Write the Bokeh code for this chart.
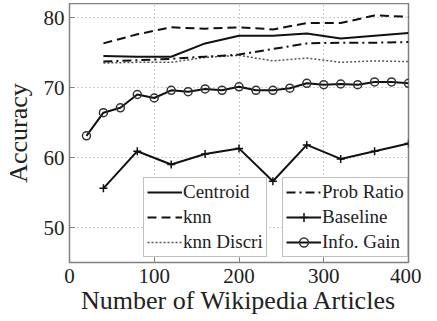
from bokeh.plotting import figure
from bokeh.models import Legend, LegendItem, Range1d, FixedTicker
from bokeh.embed import file_html
from bokeh.resources import INLINE

x40 = [40, 80, 120, 160, 200, 240, 280, 320, 360, 400]
x20 = [20, 40, 60, 80, 100, 120, 140, 160, 180, 200, 220, 240, 260, 280, 300, 320, 340, 360, 380, 400]
centroid = [74.5, 74.4, 74.4, 76.3, 77.4, 77.4, 77.7, 77.0, 77.4, 77.8]
knn = [76.3, 77.6, 78.6, 78.4, 78.6, 78.3, 79.2, 79.2, 80.3, 80.1]
knn_discri = [73.5, 73.6, 73.6, 74.3, 74.6, 73.8, 74.2, 73.6, 73.8, 73.7]
prob_ratio = [73.7, 73.9, 74.1, 74.4, 74.7, 75.5, 76.3, 76.4, 76.4, 76.5]
baseline = [55.6, 60.9, 59.0, 60.5, 61.3, 56.6, 61.8, 59.8, 60.9, 62.0]
info_gain = [63.1, 66.4, 67.1, 69.0, 68.5, 69.6, 69.4, 69.8, 69.6, 70.1,
             69.6, 69.6, 69.9, 70.6, 70.4, 70.5, 70.4, 70.8, 70.8, 70.6]
x_ticks = [0, 100, 200, 300, 400]
y_ticks = [50, 60, 70, 80]

FONT = "Liberation Serif"
GRAY = "#808080"

p = figure(width=421, height=316, output_backend="svg", toolbar_location=None,
           x_range=Range1d(0, 400), y_range=Range1d(45, 82),
           min_border_left=60, min_border_right=13, min_border_top=0, min_border_bottom=57,
           margin=(3, 0, 0, 0))
p.outline_line_color = GRAY
p.outline_line_width = 1.5

for ax in [p.xaxis[0], p.yaxis[0]]:
    ax.axis_line_color = None
    ax.major_tick_in = 5
    ax.major_tick_out = 0
    ax.minor_tick_line_color = None
    ax.major_tick_line_color = GRAY
    ax.major_label_text_font = FONT
    ax.major_label_text_font_size = "21px"
    ax.major_label_text_color = "#222222"
    ax.axis_label_text_font = FONT
    ax.axis_label_text_font_size = "26px"
    ax.axis_label_text_font_style = "normal"
    ax.axis_label_text_color = "#222222"

p.xaxis.ticker = FixedTicker(ticks=x_ticks)
p.yaxis.ticker = FixedTicker(ticks=y_ticks)
p.xaxis.axis_label = "Number of Wikipedia Articles"
p.yaxis.axis_label = "Accuracy"
p.xaxis.major_label_standoff = 6
p.yaxis.major_label_standoff = 5
p.xaxis.axis_label_standoff = 0
p.yaxis.axis_label_standoff = 8

p.xgrid.ticker = FixedTicker(ticks=x_ticks)
p.ygrid.ticker = FixedTicker(ticks=y_ticks)
for g in [p.xgrid[0], p.ygrid[0]]:
    g.grid_line_color = "#9a9a9a"
    g.grid_line_dash = "1 3"
    g.grid_line_width = 1

c = "#111111"
r_cen = p.line(x40, centroid, line_color=c, line_width=2)
r_knn = p.line(x40, knn, line_color=c, line_width=2, line_dash="9 5")
r_dis = p.line(x40, knn_discri, line_color="#555555", line_width=1.5, line_dash="2 2")
r_pr = p.line(x40, prob_ratio, line_color=c, line_width=2, line_dash="9 4 2 4")
r_bl = p.line(x40, baseline, line_color=c, line_width=2)
r_blm = p.scatter(x40, baseline, marker="cross", size=8, line_color=c, line_width=1.5)
r_ig = p.line(x20, info_gain, line_color=c, line_width=2)
r_igm = p.scatter(x20, info_gain, marker="circle", size=8, line_color="#333333",
                  fill_color=None, line_width=1.5)

def make_legend(items, x):
    lg = Legend(items=items, location=(x, 5), orientation="vertical",
                label_text_font=FONT, label_text_font_size="19px",
                label_text_color="#222222",
                glyph_width=35, glyph_height=22, label_height=22, label_standoff=1,
                spacing=3, padding=3, margin=0,
                border_line_color=GRAY, border_line_width=1.5,
                background_fill_color="white", background_fill_alpha=1)
    p.add_layout(lg, "center")

make_legend([LegendItem(label="Centroid", renderers=[r_cen]),
             LegendItem(label="knn", renderers=[r_knn]),
             LegendItem(label="knn Discri", renderers=[r_dis])], 74)
make_legend([LegendItem(label="Prob Ratio", renderers=[r_pr]),
             LegendItem(label="Baseline", renderers=[r_bl, r_blm]),
             LegendItem(label="Info. Gain", renderers=[r_ig, r_igm])], 213)

open("out.html", "w").write(file_html(p, INLINE))
